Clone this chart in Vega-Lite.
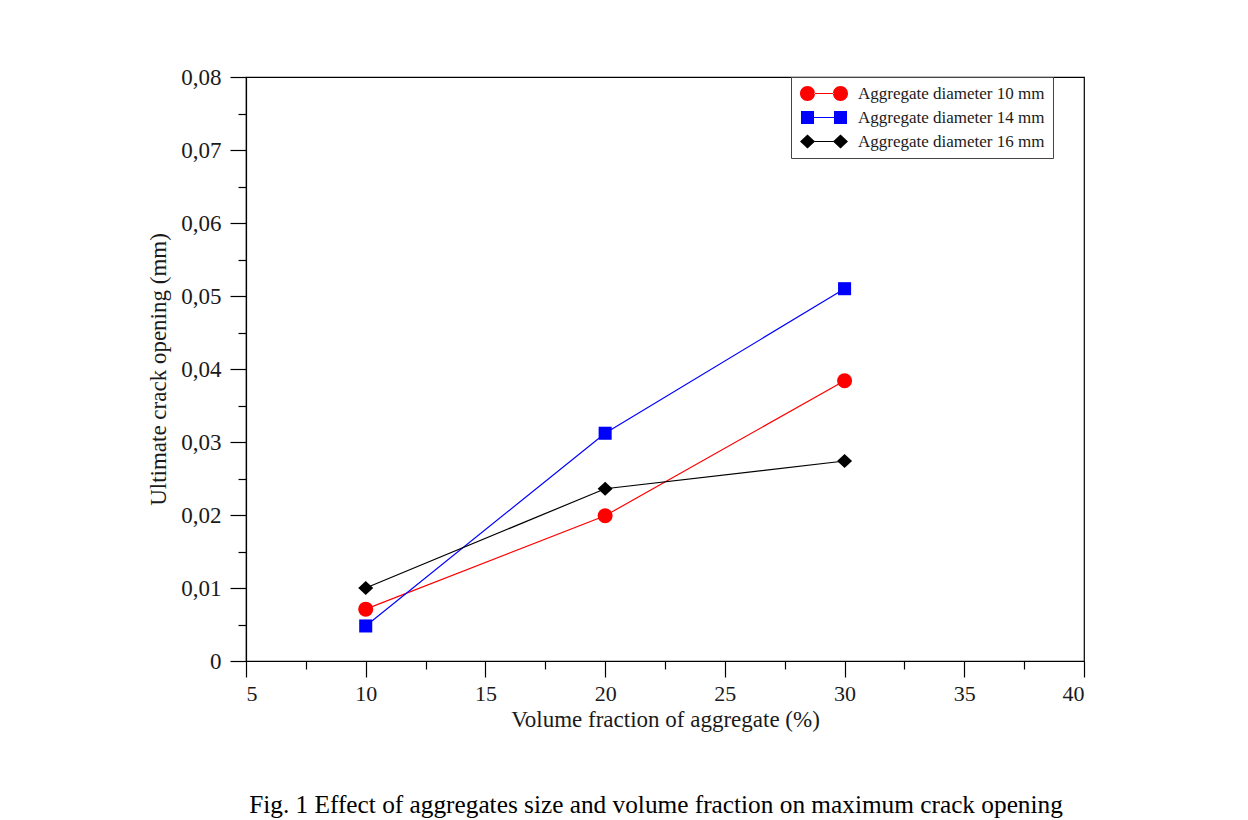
{
  "$schema": "https://vega.github.io/schema/vega-lite/v6.json",
  "width": 838,
  "height": 584,
  "autosize": {"type": "none"},
  "padding": {"left": 246, "top": 77, "right": 164, "bottom": 159},
  "background": "white",
  "config": {
    "font": "Liberation Serif",
    "view": {"stroke": "#000000", "strokeWidth": 1.2},
    "axis": {"grid": false, "domainColor": "#000000", "tickColor": "#000000", "labelColor": "#1a1a1a", "titleColor": "#1a1a1a", "labelFont": "Liberation Serif", "titleFont": "Liberation Serif", "titleFontWeight": "normal", "domainWidth": 1.2, "tickWidth": 1.2}
  },
  "title": {
    "text": "Fig. 1 Effect of aggregates size and volume fraction on maximum crack opening",
    "orient": "bottom",
    "anchor": "middle",
    "font": "Liberation Serif",
    "fontSize": 25.3,
    "fontWeight": "normal",
    "color": "#000000",
    "offset": 62,
    "dx": -9
  },
  "data": {
    "values": [
      {"series": "Aggregate diameter 10 mm", "fraction": 10, "opening": 0.0071},
      {"series": "Aggregate diameter 10 mm", "fraction": 20, "opening": 0.0199},
      {"series": "Aggregate diameter 10 mm", "fraction": 30, "opening": 0.0384},
      {"series": "Aggregate diameter 14 mm", "fraction": 10, "opening": 0.0048},
      {"series": "Aggregate diameter 14 mm", "fraction": 20, "opening": 0.0312},
      {"series": "Aggregate diameter 14 mm", "fraction": 30, "opening": 0.0510},
      {"series": "Aggregate diameter 16 mm", "fraction": 10, "opening": 0.0100},
      {"series": "Aggregate diameter 16 mm", "fraction": 20, "opening": 0.0236},
      {"series": "Aggregate diameter 16 mm", "fraction": 30, "opening": 0.0274}
    ]
  },
  "resolve": {"axis": {"x": "independent", "y": "independent"}, "scale": {"color": "independent", "shape": "independent"}},
  "layer": [
    {
      "mark": {"type": "line", "strokeWidth": 1.2},
      "encoding": {
        "x": {"field": "fraction", "type": "quantitative", "scale": {"domain": [5, 40], "nice": false, "zero": false},
          "axis": {"orient": "bottom", "values": [5, 10, 15, 20, 25, 30, 35, 40], "tickSize": 16, "labelFontSize": 22, "labelPadding": 6, "title": "Volume fraction of aggregate (%)", "titleFontSize": 23, "titlePadding": 4}},
        "y": {"field": "opening", "type": "quantitative", "scale": {"domain": [0, 0.08], "nice": false},
          "axis": {"orient": "left", "values": [0, 0.01, 0.02, 0.03, 0.04, 0.05, 0.06, 0.07, 0.08], "tickSize": 16, "labelFontSize": 23, "labelPadding": 9, "labelExpr": "datum.value == 0 ? '0' : replace(format(datum.value, '.2f'), '.', ',')", "title": "Ultimate crack opening (mm)", "titleFontSize": 23, "titlePadding": 10}},
        "stroke": {"field": "series", "type": "nominal", "scale": {"domain": ["Aggregate diameter 10 mm", "Aggregate diameter 14 mm", "Aggregate diameter 16 mm"], "range": ["#ff0000", "#0000ff", "#000000"]}, "legend": null}
      }
    },
    {
      "transform": [{"filter": "datum.series === 'Aggregate diameter 10 mm'"}],
      "mark": {"type": "point", "filled": true, "opacity": 1, "size": 225, "shape": "circle", "color": "#ff0000"},
      "encoding": {
        "x": {"field": "fraction", "type": "quantitative", "axis": null},
        "y": {"field": "opening", "type": "quantitative", "axis": null}
      }
    },
    {
      "transform": [{"filter": "datum.series === 'Aggregate diameter 14 mm'"}],
      "mark": {"type": "point", "filled": true, "opacity": 1, "size": 225, "shape": "M -0.87 -0.87 L 0.87 -0.87 L 0.87 0.87 L -0.87 0.87 Z", "color": "#0000ff"},
      "encoding": {
        "x": {"field": "fraction", "type": "quantitative", "axis": null},
        "y": {"field": "opening", "type": "quantitative", "axis": null}
      }
    },
    {
      "transform": [{"filter": "datum.series === 'Aggregate diameter 16 mm'"}],
      "mark": {"type": "point", "filled": true, "opacity": 1, "size": 225, "shape": "M -1 0 L 0 -0.93 L 1 0 L 0 0.93 Z", "color": "#000000"},
      "encoding": {
        "x": {"field": "fraction", "type": "quantitative", "axis": null},
        "y": {"field": "opening", "type": "quantitative", "axis": null}
      }
    },
    {
      "transform": [{"filter": "false"}],
      "mark": {"type": "point", "filled": true, "opacity": 1},
      "encoding": {
        "x": {"field": "fraction", "type": "quantitative",
          "axis": {"orient": "bottom", "values": [7.5, 12.5, 17.5, 22.5, 27.5, 32.5, 37.5], "tickSize": 8, "labels": false, "domain": false, "title": null}},
        "y": {"field": "opening", "type": "quantitative",
          "axis": {"orient": "left", "values": [0.005, 0.015, 0.025, 0.035, 0.045, 0.055, 0.065, 0.075], "tickSize": 8, "labels": false, "domain": false, "title": null}},
        "color": {
          "field": "series", "type": "nominal",
          "scale": {"domain": ["Aggregate diameter 10 mm", "Aggregate diameter 14 mm", "Aggregate diameter 16 mm"], "range": ["#ff0000", "#0000ff", "#000000"]},
          "legend": {
            "title": null, "orient": "none", "legendX": 545, "legendY": 0, "padding": 8,
            "strokeColor": "#444444", "fillColor": "#ffffff", "symbolSize": 225, "symbolStrokeWidth": 0, "symbolOpacity": 1,
            "labelOffset": 42, "labelFont": "Liberation Serif", "labelFontSize": 17, "labelColor": "#1a1a1a", "rowPadding": 6, "labelLimit": 400
          }
        },
        "shape": {
          "field": "series", "type": "nominal",
          "scale": {
            "domain": ["Aggregate diameter 10 mm", "Aggregate diameter 14 mm", "Aggregate diameter 16 mm"],
            "range": [
              "M -1 0 A 1 1 0 1 0 1 0 A 1 1 0 1 0 -1 0 Z M 0.9 -0.07 L 3.5 -0.07 L 3.5 0.07 L 0.9 0.07 Z M 3.4 0 A 1 1 0 1 0 5.4 0 A 1 1 0 1 0 3.4 0 Z",
              "M -0.87 -0.87 L 0.87 -0.87 L 0.87 0.87 L -0.87 0.87 Z M 0.87 -0.07 L 3.53 -0.07 L 3.53 0.07 L 0.87 0.07 Z M 3.53 -0.87 L 5.27 -0.87 L 5.27 0.87 L 3.53 0.87 Z",
              "M -1 0 L 0 -0.93 L 1 0 L 0 0.93 Z M 0.9 -0.07 L 3.5 -0.07 L 3.5 0.07 L 0.9 0.07 Z M 3.4 0 L 4.4 -0.93 L 5.4 0 L 4.4 0.93 Z"
            ]
          },
          "legend": {
            "title": null, "orient": "none", "legendX": 545, "legendY": 0, "padding": 8,
            "strokeColor": "#444444", "fillColor": "#ffffff", "symbolSize": 225, "symbolStrokeWidth": 0, "symbolOpacity": 1,
            "labelOffset": 42, "labelFont": "Liberation Serif", "labelFontSize": 17, "labelColor": "#1a1a1a", "rowPadding": 6, "labelLimit": 400
          }
        }
      }
    }
  ]
}
